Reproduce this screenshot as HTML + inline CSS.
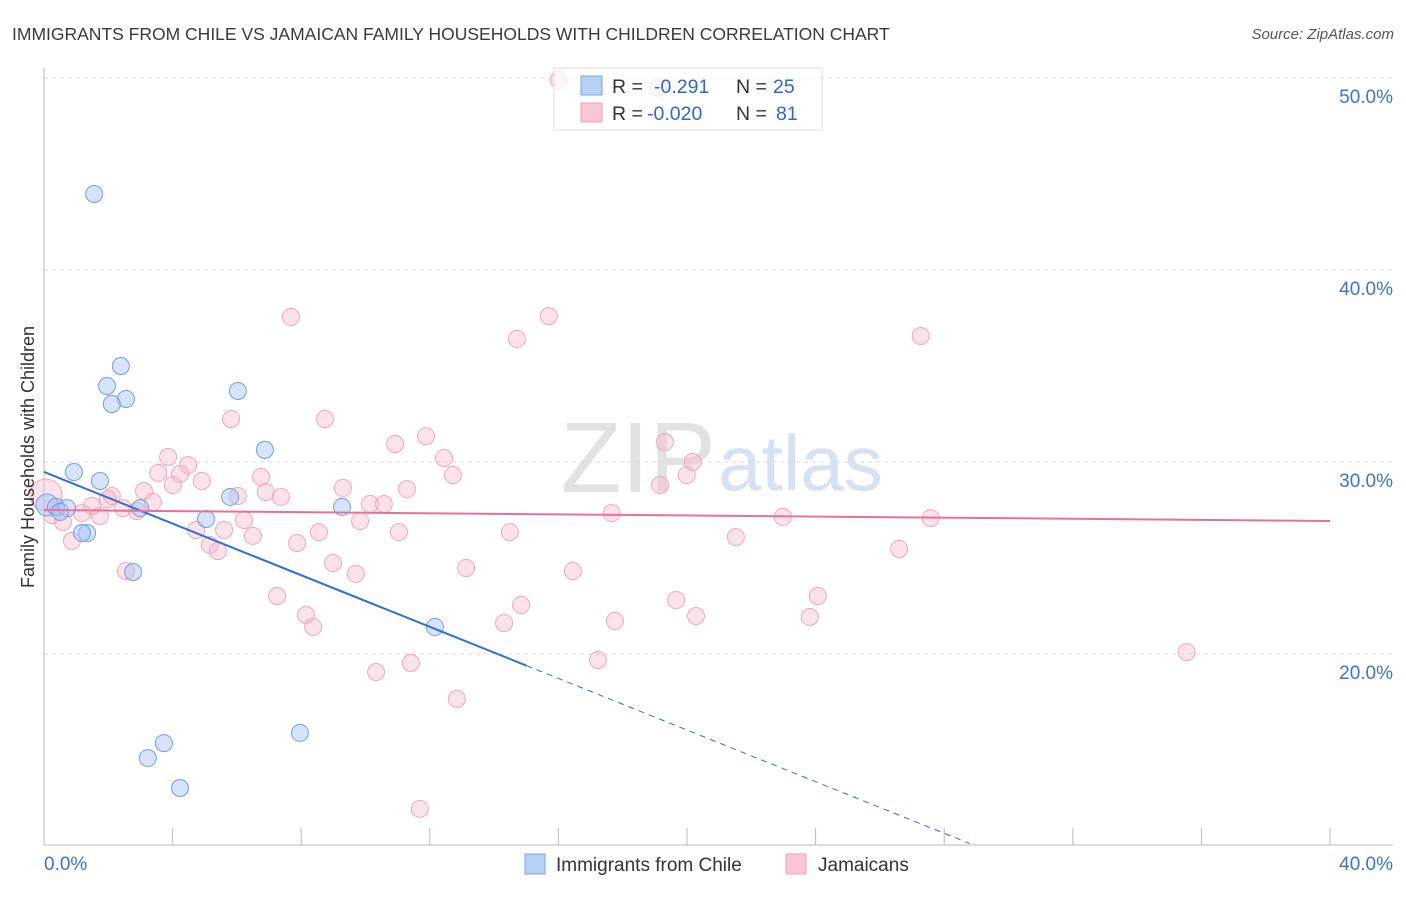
<!DOCTYPE html>
<html><head><meta charset="utf-8"><style>
body{margin:0;background:#fff;font-family:"Liberation Sans",sans-serif;}
svg text{font-family:"Liberation Sans",sans-serif;}
</style></head><body>
<svg id="chart" width="1406" height="892" viewBox="0 0 1406 892" xmlns="http://www.w3.org/2000/svg">
<text x="12" y="40" font-size="17.5" fill="#3a3a3a">IMMIGRANTS FROM CHILE VS JAMAICAN FAMILY HOUSEHOLDS WITH CHILDREN CORRELATION CHART</text>
<text x="1394" y="39" font-size="15" fill="#555" text-anchor="end" font-style="italic">Source: ZipAtlas.com</text>
<text x="716" y="492" font-size="100" fill="#e2e2e2" text-anchor="end" font-family="Liberation Serif">ZIP</text>
<text x="718" y="490" font-size="78" fill="#d6e2f3">atlas</text>
<g id="grid"></g>
<g id="axes"></g>
<g id="marks"></g>
<g id="trends"></g>
<text transform="translate(34,457) rotate(-90)" font-size="18" fill="#333" text-anchor="middle">Family Households with Children</text>
<g>
<rect x="554" y="68" width="268" height="62" fill="rgba(255,255,255,0.75)" stroke="#ddd"/>
<rect x="581" y="76" width="21" height="19" fill="#b8d0f4" stroke="#7aa6e6"/>
<rect x="581" y="103" width="21" height="19" fill="#f9c6d4" stroke="#f0a0b8"/>
<text x="612" y="93" font-size="19.5" fill="#333">R = <tspan x="654" fill="#2f68c8">-0.291</tspan><tspan x="736" fill="#333">N = </tspan><tspan x="773" fill="#2f68c8">25</tspan></text>
<text x="612" y="120" font-size="19.5" fill="#333">R = <tspan x="647" fill="#2f68c8">-0.020</tspan><tspan x="736" fill="#333">N = </tspan><tspan x="776" fill="#2f68c8">81</tspan></text>
</g>
<g>
<rect x="525" y="854" width="20" height="20" fill="#b8d0f4" stroke="#7aa6e6"/>
<text x="556" y="871" font-size="19" fill="#333">Immigrants from Chile</text>
<rect x="786" y="854" width="20" height="20" fill="#f9c6d4" stroke="#f0a0b8"/>
<text x="818" y="871" font-size="19" fill="#333">Jamaicans</text>
</g>
</svg>
<script>
const xTicks=[0,4,8,12,16,20,24,28,32,36,40];
const yTicks=[20,30,40,50];
const yTickLabels=["20.0%","30.0%","40.0%","50.0%"];
const xEndLabels=["0.0%","40.0%"];
const chileX=[1.56,2.39,1.96,2.55,2.11,6.03,6.87,0.93,1.74,5.79,2.99,9.27,5.04,1.34,1.18,2.77,12.16,3.73,3.23,4.23,7.96,0.09,0.37,0.72,0.5];
const chileY=[43.96,35.0,33.96,33.28,33.02,33.7,30.63,29.48,29.01,28.18,27.6,27.66,27.03,26.3,26.3,24.27,21.41,15.36,14.58,13.02,15.89,27.76,27.66,27.6,27.4];
const jamX=[16.02,19.1,7.68,15.7,14.71,27.27,5.82,8.74,11.88,10.92,19.31,12.44,3.86,20.18,4.48,3.55,4.23,12.72,19.99,6.75,4.91,4.01,19.16,9.3,11.29,3.11,6.9,6.03,7.37,2.11,1.99,3.39,10.14,10.57,1.49,2.46,2.89,1.18,1.74,17.66,22.98,27.58,6.22,9.83,0.59,5.6,4.73,8.55,11.04,14.49,6.5,21.52,0.87,7.87,5.16,5.41,26.6,8.99,2.55,13.13,16.45,9.7,7.25,24.07,19.66,14.84,8.15,20.28,23.82,17.76,14.31,8.37,35.54,17.23,11.41,10.33,12.84,11.69,0.25,0.06];
const jamY=[49.9,49.48,37.55,37.6,36.41,36.56,32.24,32.24,31.35,30.94,31.04,30.21,30.26,30.0,29.84,29.43,29.38,29.32,29.32,29.22,29.01,28.8,28.8,28.65,28.59,28.49,28.44,28.23,28.18,28.23,28.07,27.92,27.81,27.81,27.71,27.6,27.45,27.34,27.19,27.34,27.14,27.08,26.98,26.93,26.88,26.46,26.46,26.35,26.35,26.35,26.15,26.09,25.89,25.78,25.68,25.36,25.47,24.74,24.32,24.48,24.32,24.17,23.02,23.02,22.81,22.55,22.03,21.98,21.93,21.72,21.61,21.41,20.1,19.69,19.53,19.06,17.66,11.93,27.24,28.28];
const chileTrend=[29.48,-0.672];
const jamTrend=[27.5,-0.0143];
const chileSolidEnd=15, chileDashEnd=28.8;

const NS="http://www.w3.org/2000/svg";
const X=v=>44+v/40*1286;
const Y=v=>654-(v-20)*19.2;
function mk(tag,attrs,parent){const e=document.createElementNS(NS,tag);for(const k in attrs)e.setAttribute(k,attrs[k]);parent.appendChild(e);return e;}
const grid=document.getElementById('grid'),axes=document.getElementById('axes'),marks=document.getElementById('marks'),trends=document.getElementById('trends');
yTicks.forEach((t,i)=>{
 const l=mk('line',{x1:44,x2:1393,y1:Y(t),y2:Y(t),stroke:'#d8d8d8','stroke-dasharray':'4,4'},grid);
 
 
 const tx=mk('text',{x:1393,y:Y(t)+25,'font-size':19,fill:'#3b73d1','text-anchor':'end'},axes);
 tx.textContent=yTickLabels[i];
 
 
});
const ya=mk('line',{x1:44,x2:44,y1:68,y2:845,stroke:'#bbb'},axes);


const xa=mk('line',{x1:44,x2:1393,y1:845,y2:845,stroke:'#bbb'},axes);


xTicks.forEach(t=>{
 const l=mk('line',{x1:X(t),x2:X(t),y1:828,y2:845,stroke:'#bbb'},axes);
 
 
});
const xl0=mk('text',{x:44,y:870,'font-size':19,fill:'#3b73d1'},axes);xl0.textContent=xEndLabels[0];


const xl1=mk('text',{x:1393,y:870,'font-size':19,fill:'#3b73d1','text-anchor':'end'},axes);xl1.textContent=xEndLabels[1];


jamX.forEach((v,i)=>{
 const c=mk('circle',{cx:X(v),cy:Y(jamY[i]),r:i==jamX.length-1?16:8.5,fill:'rgba(248,182,202,0.4)',stroke:'#f0a6bd','stroke-width':1},marks);
 
 
});
chileX.forEach((v,i)=>{
 const c=mk('circle',{cx:X(v),cy:Y(chileY[i]),r:i==21?11:8.5,fill:'rgba(164,196,244,0.45)',stroke:'#6f9fe6','stroke-width':1},marks);
 
 
});
const f=(tr,x)=>tr[0]+tr[1]*x;
const t1=mk('line',{x1:X(0),y1:Y(f(chileTrend,0)),x2:X(chileSolidEnd),y2:Y(f(chileTrend,chileSolidEnd)),stroke:'#2f6fd6','stroke-width':2},trends);


const t2=mk('line',{x1:X(chileSolidEnd),y1:Y(f(chileTrend,chileSolidEnd)),x2:X(chileDashEnd),y2:Y(f(chileTrend,chileDashEnd)),stroke:'#2f6fd6','stroke-width':1,'stroke-dasharray':'6,5'},trends);


const t3=mk('line',{x1:X(0),y1:Y(f(jamTrend,0)),x2:X(40),y2:Y(f(jamTrend,40)),stroke:'#e8719a','stroke-width':2},trends);


</script>
</body></html>
